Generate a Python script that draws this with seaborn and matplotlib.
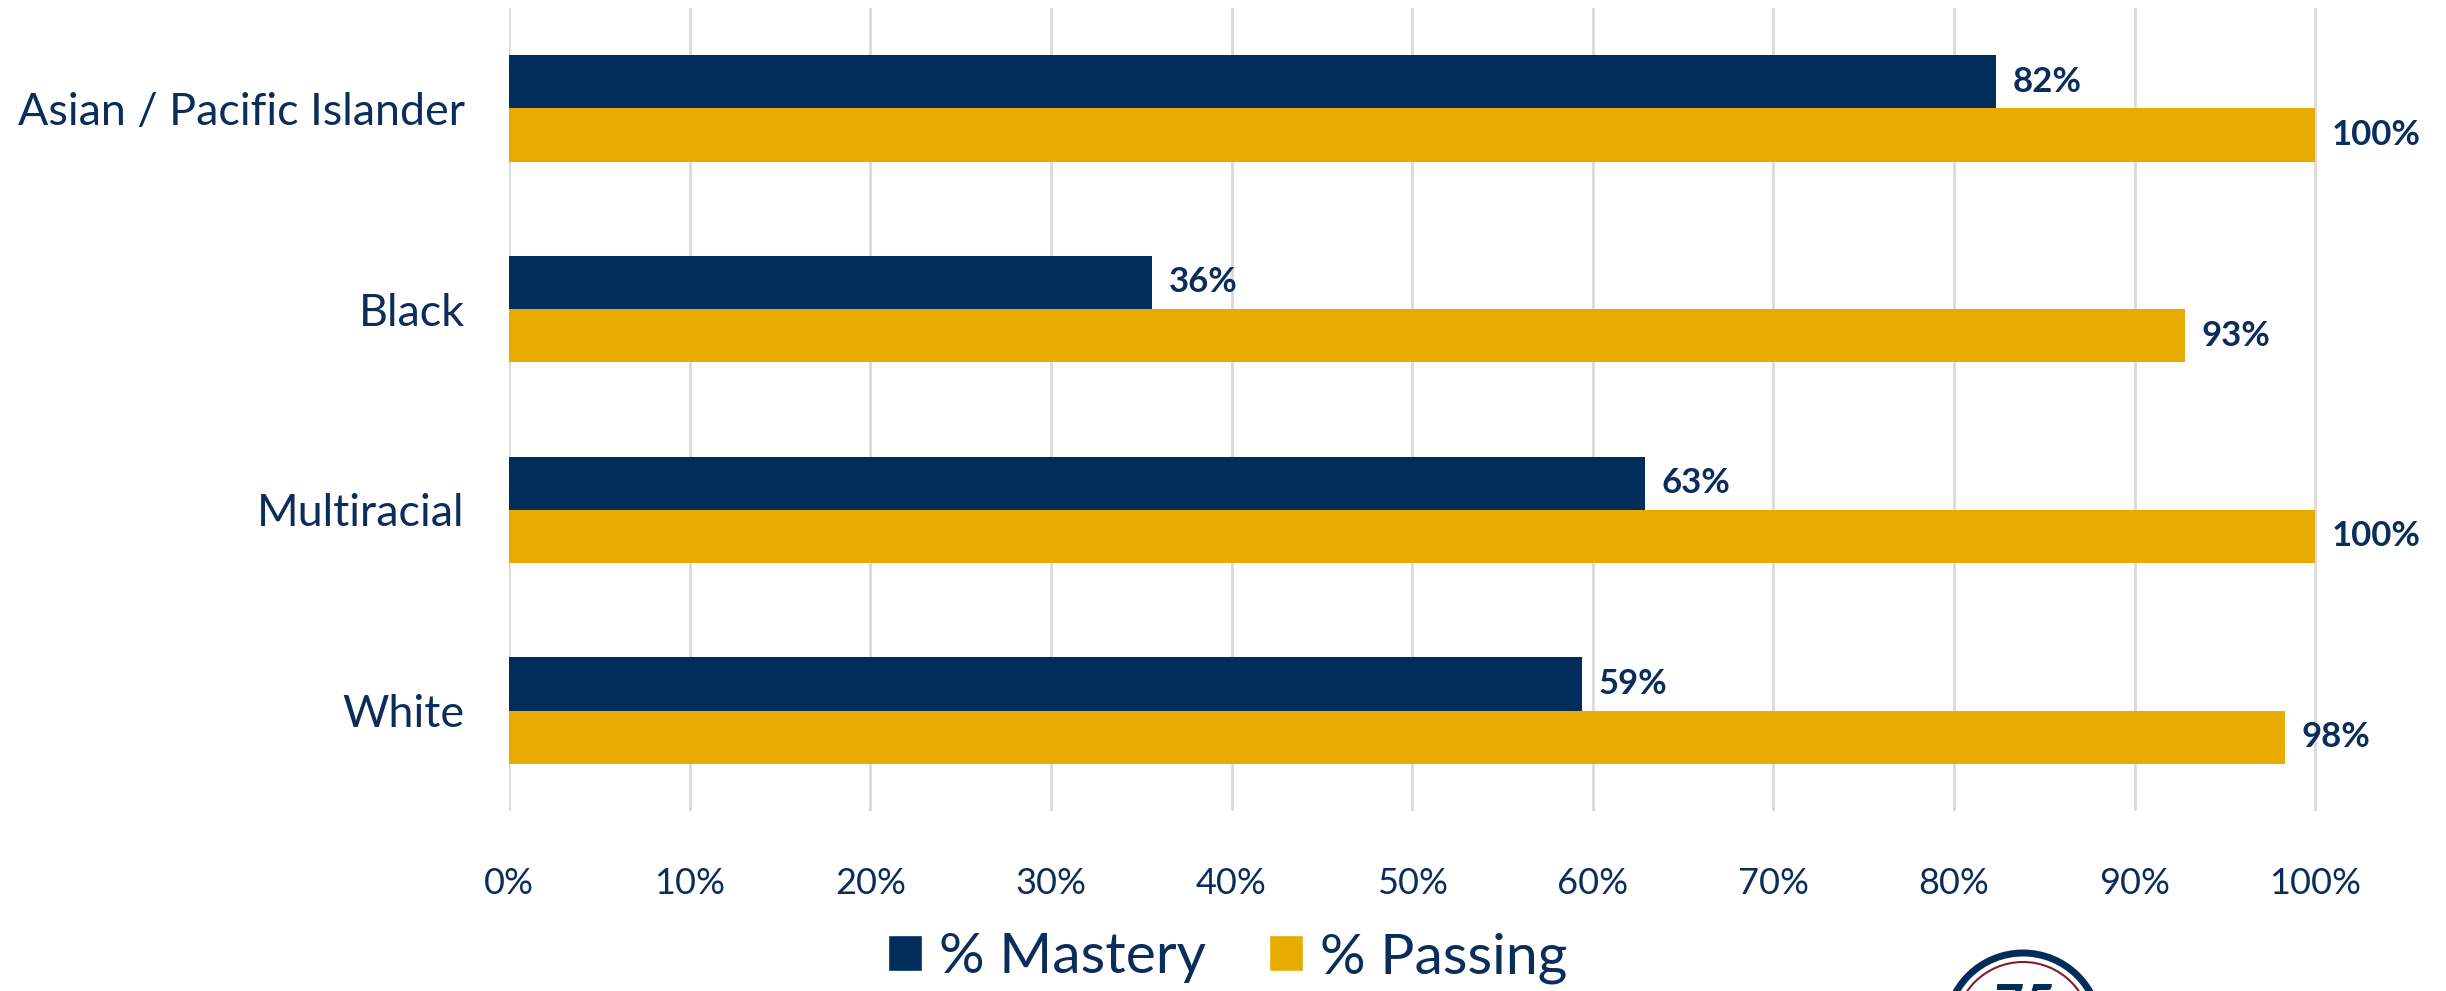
import matplotlib
matplotlib.use("Agg")
import matplotlib.pyplot as plt
from matplotlib.patches import Patch, Ellipse
import pandas as pd
import seaborn as sns

# data
groups = ["Asian / Pacific Islander", "Black", "Multiracial", "White"]
mastery = [82.3, 35.6, 62.9, 59.4]
passing = [100, 92.8, 100, 98.3]
mastery_labels = ["82%", "36%", "63%", "59%"]
passing_labels = ["100%", "93%", "100%", "98%"]
series = ["% Mastery", "% Passing"]
xticks = [0, 10, 20, 30, 40, 50, 60, 70, 80, 90, 100]
xtick_labels = [f"{t}%" for t in xticks]

navy = "#002D5C"
gold = "#E8AB00"
text_col = "#0B2D5B"
grid_col = "#D9D9D9"

df = pd.DataFrame({
    "group": groups * 2,
    "value": mastery + passing,
    "series": [series[0]] * len(groups) + [series[1]] * len(groups),
})

sns.set_style("white")
plt.rcParams["font.family"] = ["Lato", "DejaVu Sans"]

fig = plt.figure(figsize=(24.46, 9.91), dpi=100)
ax = fig.add_axes([0.2081, 0.1816, 0.7392, 0.8104])

sns.barplot(data=df, y="group", x="value", hue="series", orient="h",
            palette=[navy, gold], saturation=1, width=0.53, linewidth=0,
            legend=False, ax=ax)

ax.bar_label(ax.containers[0], labels=mastery_labels, padding=12,
             fontsize=25, fontweight="bold", color=text_col)
ax.bar_label(ax.containers[1], labels=passing_labels, padding=12,
             fontsize=25, fontweight="bold", color=text_col)

ax.set_xlim(0, 100.1)
ax.set_xticks(xticks)
ax.set_xticklabels(xtick_labels)
ax.grid(axis="x", color=grid_col, lw=2)
ax.grid(axis="y", visible=False)
ax.set_axisbelow(True)
sns.despine(ax=ax, left=True, bottom=True)
ax.tick_params(axis="x", length=0, pad=40, labelsize=26, labelcolor=text_col)
ax.tick_params(axis="y", length=0, pad=32, labelsize=32.3, labelcolor=text_col)
ax.set_xlabel("")
ax.set_ylabel("")

handles = [Patch(facecolor=navy, label=series[0]),
           Patch(facecolor=gold, label=series[1])]
fig.legend(handles=handles, loc="center", bbox_to_anchor=(0.502, 1 - 958 / 991),
           ncol=2, frameon=False, fontsize=41, handlelength=0.6,
           handleheight=0.6, handletextpad=0.3, columnspacing=1.1,
           labelcolor=text_col)

# partial logo at the bottom edge
cx, cy = 2023 / 2446, 1 - 1030 / 991
fig.add_artist(Ellipse((cx, cy), 154 / 2446, 154 / 991, transform=fig.transFigure,
                       fill=False, ec=navy, lw=5))
fig.add_artist(Ellipse((cx, cy), 136 / 2446, 136 / 991, transform=fig.transFigure,
                       fill=False, ec="#7A1F2B", lw=1.5))
fig.text(cx, 1 - 1008 / 991, "75", fontsize=40, fontweight="bold", style="italic",
         color=navy, ha="center", va="center")

fig.savefig("out.png", dpi=100)
